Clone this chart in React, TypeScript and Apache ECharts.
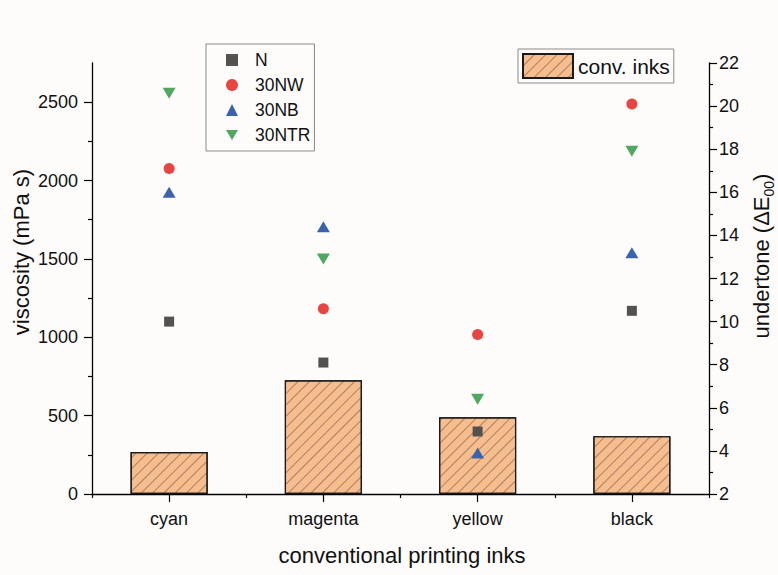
import React, { useEffect, useRef } from "react";
import * as echarts from "echarts";

const categories = ["cyan", "magenta", "yellow", "black"];
const convInks = [268, 726, 490, 369];
const seriesN = [10.0, 8.1, 4.9, 10.5];
const series30NW = [17.1, 10.6, 9.4, 20.1];
const series30NB = [16.0, 14.4, 3.9, 13.2];
const series30NTR = [20.6, 12.9, 6.4, 17.9];
const leftMajorTicks = [0, 500, 1000, 1500, 2000, 2500];
const leftMinorTicks = [250, 750, 1250, 1750, 2250];

const FONT = "'Liberation Sans', Arial, sans-serif";
const DOWN_TRIANGLE = "path://M0,0 L12,0 L6,10 Z";

export default function App() {
  const ref = useRef<HTMLDivElement>(null);
  useEffect(() => {
    if (!ref.current) return;
    const chart = echarts.init(ref.current, null, { renderer: "svg" });
    const axisLine = { show: true, lineStyle: { color: "#000", width: 1.3 } };
    const noDecal = { decal: "none", opacity: 1 };
    const option: any = {
      animation: false,
      backgroundColor: "#fdfcfb",
      aria: { enabled: true, decal: { show: true } },
      textStyle: { fontFamily: FONT },
      grid: { left: 92, right: 69, top: 63, bottom: 81, containLabel: false },
      xAxis: [
        {
          type: "category",
          data: categories,
          axisLine: axisLine,
          axisTick: { show: true, alignWithLabel: true, length: 8, inside: false, lineStyle: { color: "#000", width: 1.2 } },
          axisLabel: { color: "#111", fontSize: 18, fontFamily: FONT, margin: 16 },
          splitLine: { show: false },
        },
        {
          type: "category",
          data: categories,
          position: "bottom",
          axisLine: { show: false },
          axisTick: { show: true, alignWithLabel: false, length: 4, lineStyle: { color: "#000", width: 1.2 } },
          axisLabel: { show: false },
          splitLine: { show: false },
        },
      ],
      yAxis: [
        {
          type: "value",
          min: 0,
          max: 2750,
          position: "left",
          axisLine: axisLine,
          axisTick: { show: true, length: 8, customValues: leftMajorTicks, lineStyle: { color: "#000", width: 1.2 } },
          axisLabel: {
            color: "#111",
            fontSize: 18,
            fontFamily: FONT,
            margin: 14,
            customValues: leftMajorTicks,
            formatter: (v: number) => String(v),
          },
          splitLine: { show: false },
        },
        {
          type: "value",
          min: 2,
          max: 22,
          interval: 2,
          position: "right",
          axisLine: axisLine,
          axisTick: { show: true, length: 8, lineStyle: { color: "#000", width: 1.2 } },
          minorTick: { show: true, splitNumber: 2, length: 4, lineStyle: { color: "#000", width: 1.2 } },
          axisLabel: { color: "#111", fontSize: 18, fontFamily: FONT, margin: 10 },
          splitLine: { show: false },
          minorSplitLine: { show: false },
        },
        {
          type: "value",
          min: 0,
          max: 2750,
          position: "left",
          axisLine: { show: false },
          axisTick: { show: true, length: 4, customValues: leftMinorTicks, lineStyle: { color: "#000", width: 1.2 } },
          axisLabel: { show: false, customValues: leftMinorTicks },
          splitLine: { show: false },
        },
      ],
      legend: [
        {
          data: [
            { name: "N", itemStyle: noDecal },
            { name: "30NW", itemStyle: noDecal },
            { name: "30NB", itemStyle: noDecal },
            { name: "30NTR", itemStyle: noDecal, icon: DOWN_TRIANGLE },
          ],
          orient: "vertical",
          left: 206,
          top: 44,
          padding: [7, 4, 7, 20],
          itemWidth: 12,
          itemHeight: 12,
          itemGap: 7,
          borderColor: "#8a8a8a",
          borderWidth: 1,
          backgroundColor: "#fdfcfb",
          itemStyle: noDecal,
          textStyle: { fontSize: 17.5, lineHeight: 18, color: "#111", fontFamily: FONT, padding: [0, 0, 0, 12] },
        },
        {
          data: [{ name: "conv. inks", icon: "rect" }],
          left: 518,
          top: 49,
          padding: [4, 4, 4, 4],
          itemWidth: 50,
          itemHeight: 24,
          borderColor: "#8a8a8a",
          borderWidth: 1,
          backgroundColor: "#fdfcfb",
          textStyle: { fontSize: 21, color: "#111", fontFamily: FONT },
        },
      ],
      series: [
        {
          name: "conv. inks",
          type: "bar",
          data: convInks,
          xAxisIndex: 0,
          yAxisIndex: 0,
          barWidth: "50%",
          itemStyle: {
            color: "#f6bd8f",
            borderColor: "#1a1a1a",
            borderWidth: 1.2,
            decal: {
              symbol: "rect",
              symbolSize: 1,
              dashArrayX: [[1, 0]],
              dashArrayY: [1, 7],
              rotation: -Math.PI / 4,
              color: "rgba(70,45,25,0.42)",
            },
          },
        },
        {
          name: "N",
          type: "scatter",
          data: seriesN,
          yAxisIndex: 1,
          symbol: "rect",
          symbolSize: 10,
          itemStyle: { color: "#54524e", decal: "none", opacity: 1 },
          z: 3,
        },
        {
          name: "30NW",
          type: "scatter",
          data: series30NW,
          yAxisIndex: 1,
          symbol: "circle",
          symbolSize: 11,
          itemStyle: { color: "#e84442", decal: "none", opacity: 1 },
          z: 3,
        },
        {
          name: "30NB",
          type: "scatter",
          data: series30NB,
          yAxisIndex: 1,
          symbol: "triangle",
          symbolSize: [13, 11],
          itemStyle: { color: "#3b63aa", decal: "none", opacity: 1 },
          z: 3,
        },
        {
          name: "30NTR",
          type: "scatter",
          data: series30NTR,
          yAxisIndex: 1,
          symbol: "triangle",
          symbolRotate: 180,
          symbolSize: [13, 11],
          itemStyle: { color: "#4fa760", decal: "none", opacity: 1 },
          z: 3,
        },
      ],
      graphic: [
        {
          type: "text",
          x: 21,
          y: 252,
          rotation: Math.PI / 2,
          style: {
            text: "viscosity (mPa s)",
            fontSize: 22,
            fontFamily: FONT,
            fill: "#111",
            align: "center",
            verticalAlign: "middle",
          },
        },
        {
          type: "text",
          x: 761,
          y: 256,
          rotation: Math.PI / 2,
          style: {
            text: "{a|undertone (ΔE}{s|00}{a|)}",
            fontFamily: FONT,
            fill: "#111",
            align: "center",
            verticalAlign: "middle",
            rich: {
              a: { fontSize: 22, fontFamily: FONT, fill: "#111", lineHeight: 30, verticalAlign: "middle" },
              s: { fontSize: 14, fontFamily: FONT, fill: "#111", lineHeight: 14, verticalAlign: "bottom" },
            },
          },
        },
        {
          type: "text",
          x: 402,
          y: 555,
          style: {
            text: "conventional printing inks",
            fontSize: 22,
            fontFamily: FONT,
            fill: "#111",
            align: "center",
            verticalAlign: "middle",
          },
        },
      ],
    };
    chart.setOption(option);
    return () => chart.dispose();
  }, []);
  return (
    <div
      ref={ref}
      style={{ position: "absolute", left: 0, top: 0, width: 778, height: 575 }}
    />
  );
}
